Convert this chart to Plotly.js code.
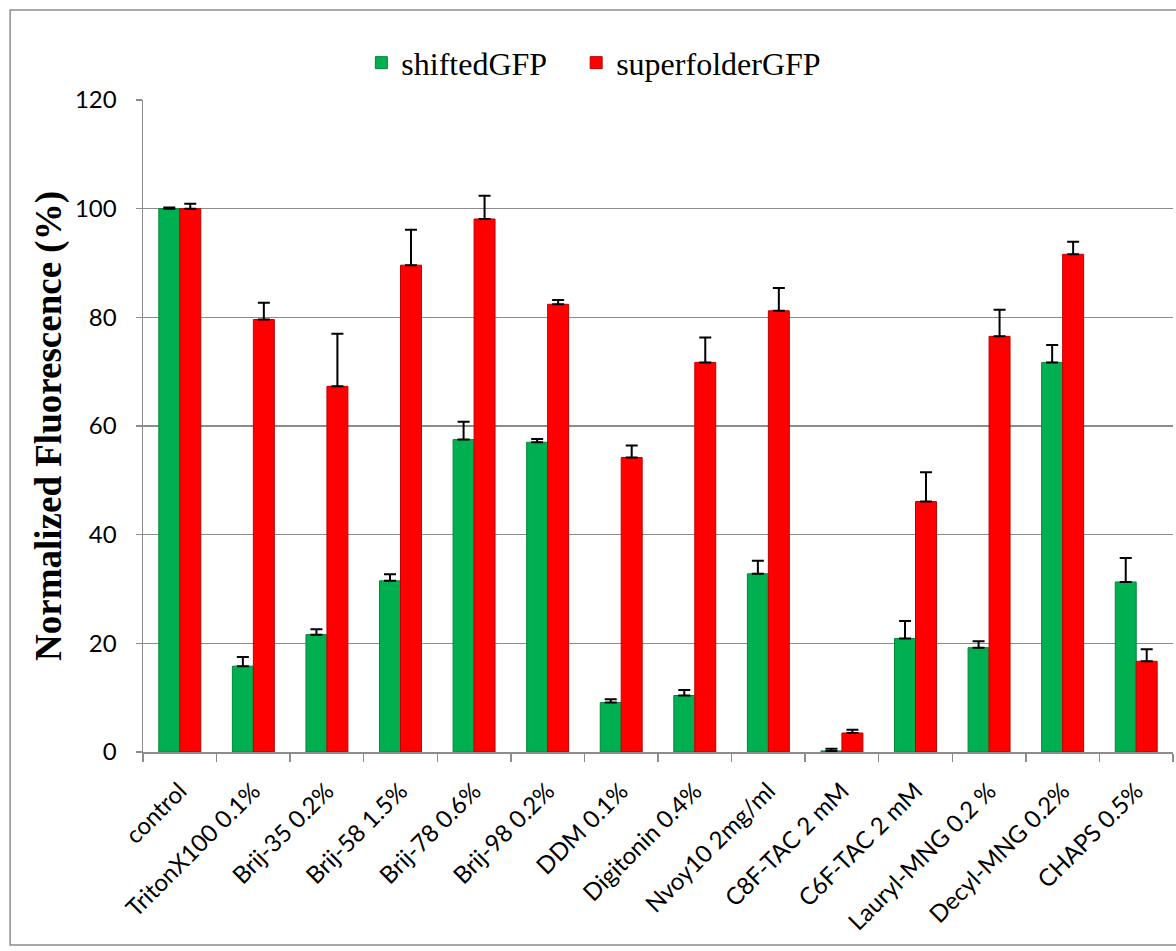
<!DOCTYPE html>
<html>
<head>
<meta charset="utf-8">
<script src="https://cdn.plot.ly/plotly-3.0.1.min.js"></script>
<style>
  html, body { margin: 0; padding: 0; background: #ffffff; }
  #chart { width: 1176px; height: 951px; }
</style>
</head>
<body>
<div id="chart"></div>
<script>
// Detergent conditions tested
const detergents = [
  "control", "TritonX100 0.1%", "Brij-35 0.2%", "Brij-58 1.5%", "Brij-78 0.6%",
  "Brij-98 0.2%", "DDM 0.1%", "Digitonin 0.4%", "Nvoy10 2mg/ml", "C8F-TAC 2 mM",
  "C6F-TAC 2 mM", "Lauryl-MNG 0.2 %", "Decyl-MNG 0.2%", "CHAPS 0.5%"
];

// Normalized fluorescence (%) and standard deviation
const shiftedGFP     = [100, 15.8, 21.6, 31.5, 57.5, 57.0, 9.1, 10.4, 32.8, 0.2, 20.9, 19.2, 71.7, 31.3];
const shiftedGFPErr  = [0.2, 1.7, 1.0, 1.2, 3.3, 0.6, 0.6, 1.0, 2.4, 0.4, 3.2, 1.2, 3.2, 4.4];
const superfolderGFP    = [100, 79.6, 67.3, 89.6, 98.1, 82.4, 54.2, 71.7, 81.2, 3.5, 46.1, 76.5, 91.6, 16.7];
const superfolderGFPErr = [0.9, 3.1, 9.7, 6.5, 4.3, 0.8, 2.2, 4.6, 4.2, 0.6, 5.4, 4.9, 2.3, 2.2];

const yTicks = [0, 20, 40, 60, 80, 100, 120];

const zeros = detergents.map(() => 0);

function barTrace(name, values, errors, fill, edge) {
  return {
    type: "bar",
    name: name,
    x: detergents,
    y: values,
    marker: { color: fill, line: { color: edge, width: 1 } },
    error_y: {
      type: "data",
      symmetric: false,
      array: errors,
      arrayminus: zeros,
      color: "#000000",
      thickness: 2,
      width: 6
    },
    hoverinfo: "x+y"
  };
}

// non-breaking spaces widen the gap between the two legend entries
const data = [
  barTrace("shiftedGFP\u00a0\u00a0\u00a0", shiftedGFP, shiftedGFPErr, "#00b050", "#00863c"),
  barTrace("superfolderGFP", superfolderGFP, superfolderGFPErr, "#ff0000", "#c00000")
];

const gridGrey = "#8c8c8c";
const tickFont = { family: "Lato, 'Open Sans', sans-serif", size: 24, color: "#000000" };
const serif = "'Liberation Serif', 'Times New Roman', serif";

const layout = {
  width: 1176,
  height: 951,
  margin: { l: 143, r: 3, t: 100, b: 199 },
  paper_bgcolor: "#ffffff",
  plot_bgcolor: "#ffffff",
  barmode: "group",
  bargap: 0.43,
  bargroupgap: 0,
  showlegend: true,
  legend: {
    orientation: "h",
    x: 0.212,
    xanchor: "left",
    y: 1.057,
    yanchor: "middle",
    font: { family: serif, size: 32, color: "#000000" },
    itemwidth: 30,
    traceorder: "normal"
  },
  xaxis: {
    type: "category",
    tickangle: -45,
    tickson: "boundaries",
    ticks: "outside",
    ticklen: 8,
    tickwidth: 1.5,
    tickcolor: gridGrey,
    ticklabelstandoff: 14,
    showline: true,
    linecolor: gridGrey,
    linewidth: 1.5,
    showgrid: false,
    tickfont: tickFont,
    automargin: false
  },
  yaxis: {
    range: [0, 120],
    tickvals: yTicks,
    ticktext: yTicks.map(String),
    ticks: "outside",
    ticklen: 6,
    tickwidth: 1.5,
    tickcolor: gridGrey,
    ticklabelstandoff: 14,
    showline: true,
    linecolor: gridGrey,
    linewidth: 1.5,
    showgrid: true,
    gridcolor: gridGrey,
    gridwidth: 1.5,
    zeroline: false,
    tickfont: tickFont,
    title: {
      text: "<b>Normalized Fluorescence (%)</b>",
      font: { family: serif, size: 37, color: "#000000" },
      standoff: 2
    },
    automargin: false
  },
  shapes: [
    {
      type: "rect",
      xref: "paper", yref: "paper",
      x0: -0.129, x1: 1.02, y0: -0.296, y1: 1.138,
      line: { color: "#8c8c8c", width: 1.5 },
      fillcolor: "rgba(0,0,0,0)",
      layer: "below"
    }
  ]
};

Plotly.newPlot("chart", data, layout, { displayModeBar: false, staticPlot: true });
</script>
</body>
</html>
